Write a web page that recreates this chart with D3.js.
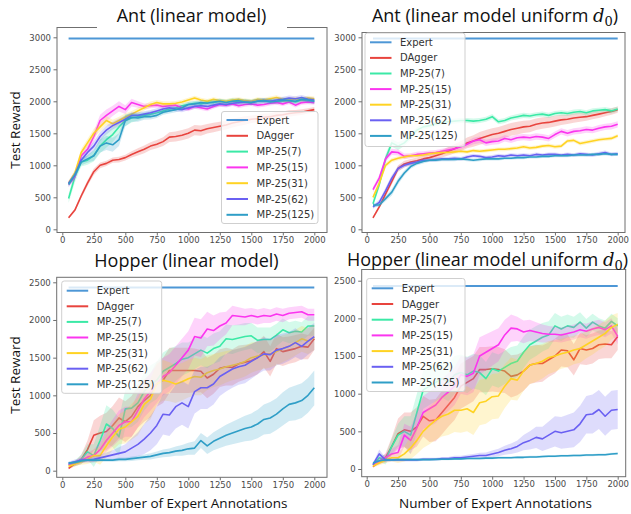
<!DOCTYPE html>
<html>
<head>
<meta charset="utf-8">
<script src="https://cdn.jsdelivr.net/npm/d3@7"></script>
<style>
  body { margin: 0; background: #fff; }
  svg { display: block; }
</style>
</head>
<body>
<svg id="chart" width="631" height="514"></svg>
<script>
// ---- shared categories / ticks ----
const annotations = [50,100,150,200,250,300,350,400,450,500,550,600,650,700,750,800,850,900,950,1000,
  1050,1100,1150,1200,1250,1300,1350,1400,1450,1500,1550,1600,1650,1700,1750,1800,1850,1900,1950,2000];
const seriesNames = ["Expert", "DAgger", "MP-25(7)", "MP-25(15)", "MP-25(31)", "MP-25(62)", "MP-25(125)"];
const seriesColors = ["#4d97d6", "#e8443e", "#3be9a6", "#fb35ef", "#ffd323", "#6a60f2", "#2f9ec7"];
const xTickValues = [0,250,500,750,1000,1250,1500,1750,2000];
const yTicksAnt = [0,500,1000,1500,2000,2500,3000];
const yTicksHopper = [0,500,1000,1500,2000,2500];

// ---- Ant (linear model) ----
const antLinExpert = 2980;
const antLinDAgger = [180,300,520,720,900,1000,1030,1080,1090,1120,1170,1210,1250,1300,1330,1370,1440,1450,1470,1500,
  1550,1540,1570,1590,1610,1630,1660,1680,1700,1720,1730,1750,1760,1780,1790,1810,1820,1830,1850,1870];
const antLinMP7 = [480,820,1050,1080,1150,1300,1400,1480,1600,1700,1740,1760,1780,1800,1820,1850,1880,1900,1930,1950,
  1970,1960,1990,1980,2000,1990,2010,1980,2000,1990,2010,2000,2020,1990,2000,2010,1990,2020,2000,2000];
const antLinMP15 = [700,820,1150,1250,1450,1700,1780,1850,1920,1870,1980,1950,1920,1930,1940,1920,1930,1940,1900,1880,
  1920,1900,1880,1920,1950,1940,1960,1930,1950,1960,1940,1950,1970,1980,1960,1990,1940,1980,1990,1980];
const antLinMP31 = [720,880,1200,1350,1500,1600,1700,1650,1700,1750,1800,1850,1900,1950,1980,1960,1960,1970,1990,2020,
  2050,2020,2000,2030,2010,2000,2020,2030,2010,2000,2030,2020,2040,2060,2030,2020,2040,2030,2050,2040];
const antLinMP62 = [720,850,1080,1200,1300,1450,1550,1620,1670,1720,1780,1780,1800,1820,1850,1880,1900,1880,1870,1900,
  1920,1930,1920,1940,1960,1950,1970,1980,1990,1980,2000,2010,2000,2020,2030,2050,2040,2060,2030,2020];
const antLinMP125 = [700,850,1050,1100,1150,1300,1350,1320,1400,1700,1750,1740,1760,1760,1780,1830,1850,1870,1900,1950,
  1960,1980,1970,1990,2000,1980,2000,2010,1990,1980,2000,2010,1990,2000,2020,2010,2000,2030,2020,2000];
const antLinDAggerSd = [15,25,40,45,50,45,40,40,45,45,50,55,60,60,65,70,75,80,80,80,80,80,75,75,70,70,70,65,65,60,60,60,55,55,50,50,45,45,40,40];
const antLinMP7Sd = [70,90,70,70,90,110,120,120,110,90,70,60,50,50,45,45,40,40,40,40,40,40,40,40,40,40,40,40,40,40,40,40,40,40,40,40,40,40,40,40];
const antLinMP15Sd = [40,50,60,70,80,90,90,80,80,70,60,50,45,40,40,40,40,35,35,35,35,35,35,35,35,35,35,35,35,35,35,35,35,35,35,35,35,35,35,35];
const antLinMP31Sd = [40,50,60,60,70,70,70,60,60,60,50,50,45,45,40,40,35,35,35,35,35,35,35,35,35,35,35,35,35,35,35,35,35,35,35,35,35,35,35,35];
const antLinMP62Sd = [40,50,50,60,70,70,70,60,60,55,50,50,45,45,40,40,40,40,40,40,40,40,40,40,40,40,40,40,40,40,40,40,40,40,40,40,40,40,40,40];
const antLinMP125Sd = [40,50,50,60,80,100,110,110,100,90,70,60,50,45,40,40,40,40,40,40,40,40,40,40,40,40,40,40,40,40,40,40,40,40,40,40,40,40,40,40];

// ---- Ant (linear model, uniform d0) ----
const antUniExpert = 2980;
const antUniDAgger = [180,350,550,750,950,1020,1050,1070,1100,1120,1150,1180,1220,1260,1300,1350,1380,1420,1450,1480,
  1500,1530,1560,1580,1600,1610,1640,1660,1670,1690,1710,1720,1740,1750,1760,1780,1800,1820,1840,1870];
const antUniMP7 = [400,700,1100,1350,1300,1350,1450,1550,1600,1620,1650,1670,1680,1690,1700,1700,1690,1700,1720,1760,
  1680,1700,1740,1760,1780,1770,1790,1800,1780,1810,1820,1810,1830,1840,1820,1850,1860,1870,1850,1880];
const antUniMP15 = [620,800,1100,1210,1200,1140,1150,1170,1180,1190,1200,1220,1240,1260,1290,1330,1380,1400,1350,1370,
  1380,1420,1400,1430,1440,1430,1450,1440,1420,1480,1530,1500,1530,1540,1560,1550,1580,1600,1610,1640];
const antUniMP31 = [500,720,1000,1080,1110,1130,1150,1150,1160,1180,1190,1200,1200,1210,1220,1210,1230,1220,1230,1240,
  1250,1250,1260,1270,1290,1270,1280,1300,1310,1290,1300,1380,1390,1340,1360,1380,1400,1410,1420,1460];
const antUniMP62 = [350,420,600,800,950,1000,1030,1050,1080,1080,1090,1100,1100,1110,1100,1130,1150,1140,1120,1130,
  1150,1140,1160,1150,1160,1150,1170,1160,1170,1170,1160,1170,1160,1180,1170,1160,1180,1200,1170,1180];
const antUniMP125 = [380,380,480,580,750,880,980,1030,1060,1080,1080,1090,1090,1090,1100,1090,1080,1090,1100,1100,
  1100,1110,1110,1120,1120,1130,1130,1140,1140,1150,1150,1150,1160,1160,1160,1170,1170,1180,1170,1170];
const antUniDAggerSd = [20,30,40,50,50,50,50,50,50,50,55,60,65,70,80,85,90,100,100,100,100,100,100,100,95,95,90,90,85,85,80,75,75,70,65,60,60,55,50,50];
const antUniMP7Sd = [40,60,70,60,60,50,50,45,45,40,40,40,40,40,40,40,40,40,40,40,40,40,40,40,40,40,40,40,40,40,40,40,40,40,40,40,40,40,40,40];
const antUniMP15Sd = [40,50,50,50,45,45,40,40,40,40,40,40,40,40,45,45,50,50,50,50,50,50,50,50,50,50,50,50,50,50,50,50,50,50,50,50,50,50,50,50];
const antUniMP31Sd = [40,50,40,35,30,30,30,30,30,30,30,30,30,30,30,30,30,30,30,30,30,30,30,30,30,30,30,30,30,30,30,30,30,30,30,30,30,30,30,30];
const antUniMP62Sd = [30,40,50,50,40,35,30,30,30,30,30,30,30,30,30,30,30,30,30,30,30,30,30,30,30,30,30,30,30,30,30,30,30,30,30,30,30,30,30,30];
const antUniMP125Sd = [30,30,40,50,50,40,35,30,30,25,25,25,25,25,25,25,25,25,25,25,25,25,25,25,25,25,25,25,25,25,25,25,25,25,25,25,25,25,25,25];

// ---- Hopper (linear model) ----
const hopLinExpert = 2430;
const hopLinDAgger = [30,90,150,280,470,500,520,600,700,650,720,850,930,1000,1150,1200,1330,1330,1330,1330,
  1330,1320,1230,1280,1360,1380,1370,1420,1440,1460,1500,1580,1450,1620,1580,1600,1620,1650,1640,1750];
const hopLinMP7 = [80,100,150,250,200,400,620,560,450,820,830,900,1050,1150,1200,1320,1370,1420,1480,1500,
  1550,1600,1560,1620,1650,1750,1740,1760,1780,1790,1730,1740,1740,1800,1870,1830,1850,1840,1920,1920];
const hopLinMP15 = [80,100,140,180,200,280,400,500,600,650,650,800,950,1050,1150,1250,1300,1400,1500,1600,
  1780,1760,1880,1860,1920,1960,2060,2050,2040,2060,2040,2060,2050,2080,2060,2090,2100,2110,2070,2070];
const hopLinMP31 = [60,90,120,150,200,200,330,450,550,580,650,720,880,950,1150,1200,1180,1150,1180,1220,
  1250,1240,1300,1330,1350,1380,1400,1420,1450,1500,1520,1540,1550,1580,1620,1650,1700,1750,1720,1770];
const hopLinMP62 = [100,120,140,140,150,170,190,210,230,250,300,350,420,500,600,750,740,850,900,850,
  1050,1100,1100,1150,1250,1300,1350,1380,1400,1450,1500,1550,1540,1600,1620,1650,1700,1650,1720,1780];
const hopLinMP125 = [100,110,130,140,140,140,140,140,150,150,160,170,180,190,210,230,240,260,270,290,
  300,400,330,390,430,470,500,530,560,580,620,680,700,750,820,880,900,930,1000,1100];
const hopLinDAggerSd = [15,30,60,120,200,230,250,260,270,270,270,280,280,290,300,300,300,300,300,300,290,280,270,260,250,250,240,240,230,220,220,210,200,200,190,180,180,170,160,150];
const hopLinMP7Sd = [20,40,60,100,150,200,250,250,250,250,250,250,250,250,250,250,250,230,220,200,200,200,200,200,200,190,190,180,180,170,170,160,160,150,150,140,140,130,130,130];
const hopLinMP15Sd = [20,30,40,60,80,100,150,180,200,200,200,220,240,250,250,250,250,250,250,250,250,250,230,200,180,150,130,120,110,100,100,100,90,90,90,80,80,80,80,80];
const hopLinMP31Sd = [20,30,40,60,80,120,150,180,200,220,240,250,260,270,270,270,260,250,250,250,250,240,230,220,220,210,200,200,200,200,190,190,180,180,180,170,170,170,170,170];
const hopLinMP62Sd = [20,30,30,30,40,40,50,60,80,100,130,160,200,230,250,270,280,290,290,290,290,280,280,270,260,250,250,240,240,230,220,220,210,200,200,190,190,180,180,180];
const hopLinMP125Sd = [20,20,20,20,20,20,20,20,25,25,30,30,35,40,45,50,55,60,70,80,90,100,110,120,130,140,150,160,170,180,190,200,210,210,220,220,230,230,230,230];

// ---- Hopper (linear model, uniform d0) ----
const hopUniExpert = 2430;
const hopUniDAgger = [30,100,150,300,470,520,500,560,700,640,650,750,850,950,1100,1150,1200,1320,1320,1330,
  1320,1300,1230,1250,1300,1380,1400,1400,1450,1500,1580,1570,1450,1600,1580,1600,1650,1660,1650,1760];
const hopUniMP7 = [50,150,120,300,450,500,450,750,1050,1100,1150,1200,1150,1250,1280,1250,1300,1280,1200,1330,
  1300,1350,1400,1430,1550,1650,1700,1750,1780,1900,1860,1900,1880,1950,1870,1950,1900,1870,1960,1900];
const hopUniMP15 = [50,100,150,200,220,450,380,550,750,800,850,950,1020,1100,1250,1230,1270,1500,1550,1600,
  1650,1780,1870,1860,1820,1840,1820,1800,1790,1790,1780,1800,1820,1850,1830,1860,1880,1850,1900,1760];
const hopUniMP31 = [40,80,120,150,150,200,280,380,500,580,650,700,730,780,780,800,750,880,900,960,
  970,1100,1200,1180,1300,1380,1400,1430,1480,1500,1530,1550,1580,1600,1650,1700,1750,1800,1880,1920];
const hopUniMP62 = [60,200,120,120,120,120,120,120,130,130,130,140,140,150,150,160,170,180,180,200,
  220,250,270,300,350,380,420,400,450,500,480,500,520,600,720,730,790,700,780,790];
const hopUniMP125 = [80,110,120,120,125,125,125,125,125,125,128,130,130,135,135,140,140,140,145,145,
  150,150,150,155,155,160,160,165,170,170,175,175,180,180,185,185,190,190,200,205];
const hopUniDAggerSd = [15,30,60,120,200,230,250,260,270,280,280,290,290,300,300,300,300,300,300,300,300,290,280,270,260,250,250,240,230,230,220,220,210,210,200,200,190,190,180,180];
const hopUniMP7Sd = [20,50,60,100,150,200,250,250,250,250,250,250,250,250,240,240,230,230,220,220,220,220,220,210,210,200,200,190,180,170,160,150,140,130,120,110,100,100,100,100];
const hopUniMP15Sd = [20,40,50,70,100,150,180,200,220,230,240,250,250,250,250,250,250,250,240,230,220,200,180,160,150,140,130,120,110,100,100,100,100,100,100,100,100,100,100,100];
const hopUniMP31Sd = [20,30,40,50,70,100,150,180,220,250,260,270,280,290,300,300,300,300,300,300,300,290,280,270,260,250,240,230,220,210,200,200,190,190,180,180,170,170,160,150];
const hopUniMP62Sd = [20,60,30,20,20,20,20,20,20,20,20,20,20,25,25,30,30,35,40,45,50,60,70,80,100,120,140,160,180,200,210,220,230,240,250,260,260,260,260,260];
const hopUniMP125Sd = [15,15,15,15,15,15,15,15,15,15,15,15,15,15,15,15,15,15,15,15,15,15,15,15,15,15,15,15,15,15,15,15,15,15,15,15,15,15,15,15];

// ---- panel layout ----
const panels = [
  {
    title: "Ant (linear model)", math: false,
    expert: antLinExpert,
    means: [antLinDAgger, antLinMP7, antLinMP15, antLinMP31, antLinMP62, antLinMP125],
    sds: [antLinDAggerSd, antLinMP7Sd, antLinMP15Sd, antLinMP31Sd, antLinMP62Sd, antLinMP125Sd],
    yTicks: yTicksAnt, yMax: 3000,
    frame: { x0: 57, x1: 327, y0: 27.5, y1: 232.5 },
    xr: [62.3, 314.3], yr: [229.3, 37.3],
    titleX: 191.5, titleY: 21.5, titleBg: { x: 97, y: 0, w: 190, h: 29 },
    legend: { x: 221.5, y: 111.5, w: 96.5, h: 112, first: 8.5, step: 15.8 },
    yLabel: 130, xLabel: null
  },
  {
    title: "Ant (linear model uniform ", math: true,
    expert: antUniExpert,
    means: [antUniDAgger, antUniMP7, antUniMP15, antUniMP31, antUniMP62, antUniMP125],
    sds: [antUniDAggerSd, antUniMP7Sd, antUniMP15Sd, antUniMP31Sd, antUniMP62Sd, antUniMP125Sd],
    yTicks: yTicksAnt, yMax: 3000,
    frame: { x0: 362, x1: 625, y0: 32.5, y1: 232.5 },
    xr: [366.7, 617.7], yr: [229.3, 37.3],
    titleX: 495, titleY: 21.5, titleBg: null,
    legend: { x: 365, y: 33, w: 100, h: 113.5, first: 9.3, step: 15.6 },
    yLabel: null, xLabel: null
  },
  {
    title: "Hopper (linear model)", math: false,
    expert: hopLinExpert,
    means: [hopLinDAgger, hopLinMP7, hopLinMP15, hopLinMP31, hopLinMP62, hopLinMP125],
    sds: [hopLinDAggerSd, hopLinMP7Sd, hopLinMP15Sd, hopLinMP31Sd, hopLinMP62Sd, hopLinMP125Sd],
    yTicks: yTicksHopper, yMax: 2500,
    frame: { x0: 56.7, x1: 327, y0: 277.3, y1: 477.3 },
    xr: [62.3, 314.3], yr: [470.7, 282.3],
    titleX: 186.5, titleY: 266.5, titleBg: null,
    legend: { x: 61.7, y: 281, w: 100, h: 112.3, first: 9.7, step: 15.6 },
    yLabel: 375, xLabel: 191
  },
  {
    title: "Hopper (linear model uniform ", math: true,
    expert: hopUniExpert,
    means: [hopUniDAgger, hopUniMP7, hopUniMP15, hopUniMP31, hopUniMP62, hopUniMP125],
    sds: [hopUniDAggerSd, hopUniMP7Sd, hopUniMP15Sd, hopUniMP31Sd, hopUniMP62Sd, hopUniMP125Sd],
    yTicks: yTicksHopper, yMax: 2500,
    frame: { x0: 361.7, x1: 625.7, y0: 269.5, y1: 476.7 },
    xr: [366.7, 617.7], yr: [469, 280.7],
    titleX: 487.5, titleY: 266, titleBg: null,
    legend: { x: 366.7, y: 278.5, w: 98.3, h: 113, first: 9.8, step: 15.7 },
    yLabel: null, xLabel: 495.5
  }
];

const svg = d3.select("#chart");
const tickFont = "'DejaVu Sans', sans-serif";
const labelFont = "'Open Sans', 'Noto Sans', sans-serif";

panels.forEach(p => {
  const g = svg.append("g");
  const x = d3.scaleLinear().domain([0, 2000]).range(p.xr);
  const y = d3.scaleLinear().domain([0, p.yMax]).range(p.yr);

  // clip the plotted data to the axes frame
  const clipId = "clip-" + Math.round(p.frame.x0) + "-" + Math.round(p.frame.y0);
  svg.append("clipPath").attr("id", clipId).append("rect")
    .attr("x", p.frame.x0).attr("y", p.frame.y0)
    .attr("width", p.frame.x1 - p.frame.x0).attr("height", p.frame.y1 - p.frame.y0);
  const plot = g.append("g").attr("clip-path", `url(#${clipId})`);

  // expert reference level
  plot.append("line")
    .attr("x1", x(annotations[0])).attr("x2", x(annotations[annotations.length - 1]))
    .attr("y1", y(p.expert)).attr("y2", y(p.expert))
    .attr("stroke", seriesColors[0]).attr("stroke-width", 2);

  // mean curves with ±1 sd bands
  p.means.forEach((m, i) => {
    const sd = p.sds[i];
    const col = seriesColors[i + 1];
    const pts = annotations.map((a, k) => ({ a, m: m[k], s: sd[k] }));
    plot.append("path").datum(pts)
      .attr("d", d3.area().x(d => x(d.a)).y0(d => y(d.m - d.s)).y1(d => y(d.m + d.s)))
      .attr("fill", col).attr("fill-opacity", 0.22).attr("stroke", "none");
    plot.append("path").datum(pts)
      .attr("d", d3.line().x(d => x(d.a)).y(d => y(d.m)))
      .attr("fill", "none").attr("stroke", col).attr("stroke-width", 1.6)
      .attr("stroke-linejoin", "round");
  });

  // frame
  g.append("rect")
    .attr("x", p.frame.x0).attr("y", p.frame.y0)
    .attr("width", p.frame.x1 - p.frame.x0).attr("height", p.frame.y1 - p.frame.y0)
    .attr("fill", "none").attr("stroke", "#6f6f6f").attr("stroke-width", 1);

  // axes
  const xAxis = g.append("g").attr("transform", `translate(0,${p.frame.y1})`)
    .call(d3.axisBottom(x).tickValues(xTickValues).tickFormat(d3.format("d")).tickSize(3).tickPadding(1.5));
  const yAxis = g.append("g").attr("transform", `translate(${p.frame.x0},0)`)
    .call(d3.axisLeft(y).tickValues(p.yTicks).tickFormat(d3.format("d")).tickSize(3.5).tickPadding(2.5));
  [xAxis, yAxis].forEach(ax => {
    ax.select(".domain").remove();
    ax.selectAll(".tick line").attr("stroke", "#6f6f6f");
    ax.selectAll(".tick text").attr("fill", "#4a4a4a")
      .style("font-family", tickFont).style("font-size", "8.5px");
  });

  // legend
  const L = p.legend;
  const lg = g.append("g");
  lg.append("rect").attr("x", L.x).attr("y", L.y).attr("width", L.w).attr("height", L.h)
    .attr("rx", 2.5).attr("fill", "#fff").attr("fill-opacity", 0.8)
    .attr("stroke", "#cfcfcf").attr("stroke-width", 1);
  seriesNames.forEach((name, i) => {
    const cy = L.y + L.first + i * L.step;
    lg.append("line").attr("x1", L.x + 5).attr("x2", L.x + 26.5).attr("y1", cy).attr("y2", cy)
      .attr("stroke", seriesColors[i]).attr("stroke-width", 2);
    lg.append("text").attr("x", L.x + 35).attr("y", cy).attr("dy", "0.35em")
      .style("font-family", tickFont).style("font-size", "10px").attr("fill", "#333")
      .text(name);
  });

  // title
  if (p.titleBg) {
    g.append("rect").attr("x", p.titleBg.x).attr("y", p.titleBg.y)
      .attr("width", p.titleBg.w).attr("height", p.titleBg.h).attr("fill", "#fff");
  }
  const t = g.append("text").attr("x", p.titleX).attr("y", p.titleY)
    .attr("text-anchor", "middle").attr("fill", "#111")
    .style("font-family", labelFont).style("font-size", "18px");
  t.append("tspan").text(p.title);
  if (p.math) {
    t.append("tspan").style("font-family", "'DejaVu Serif', 'Liberation Serif', serif")
      .style("font-style", "italic").text("d");
    t.append("tspan").attr("dy", 4).style("font-size", "13px")
      .style("font-family", "'DejaVu Serif', 'Liberation Serif', serif").text("0");
    t.append("tspan").attr("dy", -4).text(")");
  }

  // axis titles
  if (p.yLabel !== null) {
    g.append("text").attr("transform", `translate(15,${p.yLabel}) rotate(-90)`)
      .attr("text-anchor", "middle").attr("dy", "0.35em").attr("fill", "#111")
      .style("font-family", labelFont).style("font-size", "13.5px").text("Test Reward");
  }
  if (p.xLabel !== null) {
    g.append("text").attr("x", p.xLabel).attr("y", 507.5)
      .attr("text-anchor", "middle").attr("fill", "#111")
      .style("font-family", labelFont).style("font-size", "13.5px").text("Number of Expert Annotations");
  }
});
</script>
</body>
</html>
